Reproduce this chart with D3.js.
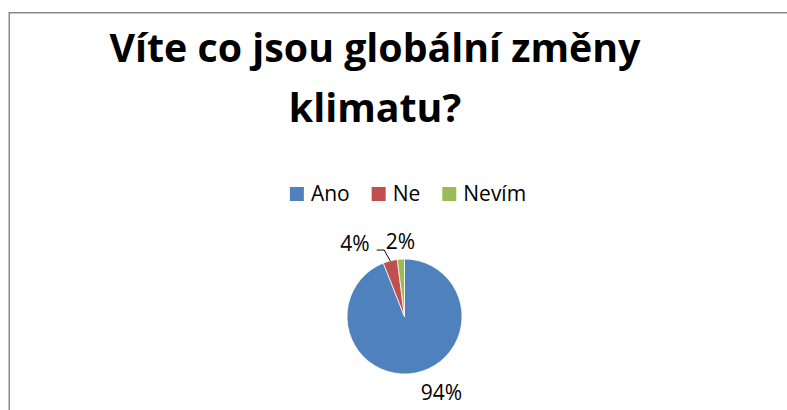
<!DOCTYPE html>
<html>
<head>
<meta charset="utf-8">
<script src="https://cdn.jsdelivr.net/npm/d3@7"></script>
<style>
  body { margin: 0; background: #fff; }
  svg { display: block; font-family: "Open Sans", Lato, sans-serif; }
</style>
</head>
<body>
<div id="chart"></div>
<script>
let titleLines = ["Víte co jsou globální změny", "klimatu?"];
let categories = ["Ano", "Ne", "Nevím"];
let values = [94, 4, 2];
let colors = ["#4F81BD", "#C0504D", "#9BBB59"];

let width = 787, height = 410;

const svg = d3.select("#chart").append("svg")
  .attr("width", width)
  .attr("height", height);

// frame, runs off the right and bottom edge like the screenshot
svg.append("rect")
  .attr("x", 9.25).attr("y", 12.75)
  .attr("width", width + 20).attr("height", height + 20)
  .attr("fill", "#fff")
  .attr("stroke", "#8a8a8a")
  .attr("stroke-width", 1.5);

let title = svg.append("text")
  .attr("text-anchor", "middle")
  .attr("font-weight", "bold")
  .attr("font-size", "39.3px")
  .attr("fill", "#000");

title.selectAll("tspan")
  .data(titleLines)
  .join("tspan")
    .attr("x", 375)
    .attr("y", (d, i) => 62 + i * 60)
    .text(d => d);

// legend: laid out left to right from the measured text widths, centred
let legend = svg.append("g");
let item = legend.selectAll("g")
  .data(categories)
  .join("g");
item.append("rect")
  .attr("y", -14)
  .attr("width", 14).attr("height", 14)
  .attr("fill", (d, i) => colors[i]);
item.append("text")
  .attr("x", 21)
  .attr("font-size", "21px")
  .text(d => d);

let lx = 0;
item.each(function() {
  let w = d3.select(this).select("text").node().getComputedTextLength();
  d3.select(this).attr("transform", `translate(${lx},0)`);
  lx += 21 + w + 22;
});
let legendW = lx - 22;
legend.attr("transform", `translate(${408 - legendW / 2},201)`);

// pie
let cx = 404.5, cy = 316.5, r = 57.5;
let total = d3.sum(values);
let pie = d3.pie().sort(null).value(d => d.value);
let arcs = pie(categories.map((c, i) => ({ name: c, value: values[i], color: colors[i] })));
let arc = d3.arc().innerRadius(0).outerRadius(r);

let g = svg.append("g").attr("transform", `translate(${cx},${cy})`);

g.selectAll("path")
  .data(arcs)
  .join("path")
    .attr("d", arc)
    .attr("fill", d => d.data.color)
    .attr("stroke", "#fff")
    .attr("stroke-width", 0.75);

// labels placed just outside the slice, anchored by side
let fmt = d3.format(".0%");
let labels = arcs.map(d => {
  let a = (d.startAngle + d.endAngle) / 2;
  let rr = r + 8;
  let px = Math.sin(a) * rr, py = -Math.cos(a) * rr;
  let s = Math.sin(a);
  let anchor = Math.abs(s) < 0.15 ? "middle" : (s > 0 ? "start" : "end");
  let base = py > 0 ? py + 19 : py - 2;
  return { d, a, px, py, anchor, x: px + (s > 0.15 ? 4 : 0), y: base, text: fmt(d.data.value / total), shifted: false };
});

let lab = g.selectAll("text.lab")
  .data(labels)
  .join("text")
    .attr("class", "lab")
    .attr("font-size", "21px")
    .attr("text-anchor", d => d.anchor)
    .attr("x", d => d.x)
    .attr("y", d => d.y)
    .text(d => d.text);

// push overlapping labels to the left
let nodes = lab.nodes();
for (let i = 0; i < nodes.length; i++) {
  for (let j = i + 1; j < nodes.length; j++) {
    let b1 = nodes[i].getBBox(), b2 = nodes[j].getBBox();
    let overlap = b1.x < b2.x + b2.width && b2.x < b1.x + b1.width &&
                  b1.y < b2.y + b2.height && b2.y < b1.y + b1.height;
    if (overlap) {
      let left = b1.x < b2.x ? i : j;
      let other = left === i ? b2 : b1;
      let lb = left === i ? b1 : b2;
      let dx = (lb.x + lb.width) - other.x + 16;
      labels[left].x -= dx;
      labels[left].shifted = true;
      d3.select(nodes[left]).attr("x", labels[left].x);
    }
  }
}

// leader lines for moved labels
labels.filter(l => l.shifted).forEach(l => {
  let ex = Math.sin(l.a) * r, ey = -Math.cos(l.a) * r;
  let hy = l.y - 1;
  g.append("path")
    .attr("d", d3.line()([[ex, ey], [l.px - 4, hy], [l.x + 7, hy]]))
    .attr("fill", "none")
    .attr("stroke", "#000")
    .attr("stroke-width", 1);
});
</script>
</body>
</html>
